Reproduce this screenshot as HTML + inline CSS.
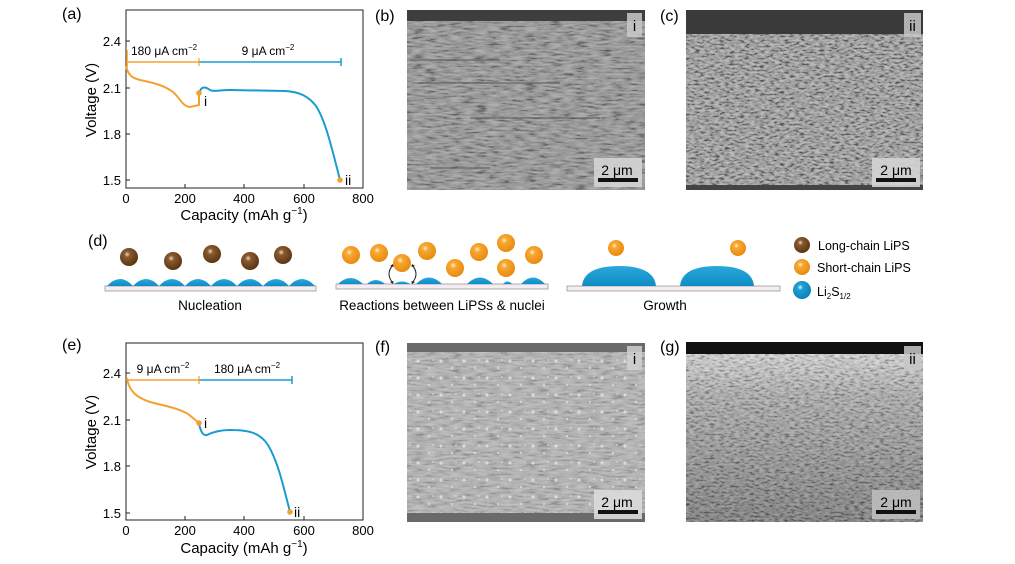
<!DOCTYPE html>
<html><head><meta charset="utf-8"><style>
html,body{margin:0;padding:0;background:#fff;}
svg{display:block;font-family:"Liberation Sans",Arial,sans-serif;}
</style></head><body>
<svg width="1015" height="564" viewBox="0 0 1015 564" xmlns="http://www.w3.org/2000/svg">
<defs>
<filter id="n1" x="0" y="0" width="100%" height="100%"><feTurbulence type="fractalNoise" baseFrequency="0.08 0.5" numOctaves="3" seed="3"/><feColorMatrix type="matrix" values="2 0 0 0 -0.5  2 0 0 0 -0.5  2 0 0 0 -0.5  0 0 0 0 1"/></filter>
<filter id="n2" x="0" y="0" width="100%" height="100%"><feTurbulence type="fractalNoise" baseFrequency="0.2 0.5" numOctaves="3" seed="7"/><feColorMatrix type="matrix" values="2.4 0 0 0 -0.7  2.4 0 0 0 -0.7  2.4 0 0 0 -0.7  0 0 0 0 1"/></filter>
<pattern id="dots" width="23" height="17" patternUnits="userSpaceOnUse"><circle cx="4" cy="4" r="1.6" fill="#e4e4e4"/><circle cx="15" cy="11" r="1.2" fill="#dcdcdc"/><circle cx="19" cy="3" r="0.9" fill="#e0e0e0"/></pattern>
<radialGradient id="gb" cx="0.4" cy="0.35" r="0.65"><stop offset="0" stop-color="#e8d8c8"/><stop offset="0.25" stop-color="#8a5a2e"/><stop offset="1" stop-color="#5a3512"/></radialGradient>
<radialGradient id="go" cx="0.4" cy="0.35" r="0.65"><stop offset="0" stop-color="#fff3d8"/><stop offset="0.25" stop-color="#f8a830"/><stop offset="1" stop-color="#e88a10"/></radialGradient>
<radialGradient id="gl" cx="0.4" cy="0.35" r="0.65"><stop offset="0" stop-color="#e0f4fc"/><stop offset="0.25" stop-color="#1ca0d4"/><stop offset="1" stop-color="#0a82b8"/></radialGradient>
<linearGradient id="gdome" x1="0" y1="0" x2="0" y2="1"><stop offset="0" stop-color="#2aa8dc"/><stop offset="1" stop-color="#0e8cc4"/></linearGradient>
<linearGradient id="gg" x1="0" y1="0" x2="0" y2="1"><stop offset="0" stop-color="#dcdcdc"/><stop offset="0.3" stop-color="#a4a4a4"/><stop offset="1" stop-color="#707070"/></linearGradient>
</defs>

<!-- ===== Panel a ===== -->
<text x="62" y="19" font-size="16">(a)</text>
<rect x="126" y="10" width="237" height="178" fill="none" stroke="#222" stroke-width="1"/>
<g stroke="#222" stroke-width="1">
<line x1="185" y1="188" x2="185" y2="184"/><line x1="244" y1="188" x2="244" y2="184"/><line x1="304" y1="188" x2="304" y2="184"/>
<line x1="126" y1="41" x2="130" y2="41"/><line x1="126" y1="88" x2="130" y2="88"/><line x1="126" y1="134" x2="130" y2="134"/><line x1="126" y1="180" x2="130" y2="180"/>
</g>
<g font-size="13" text-anchor="end"><text x="121" y="46">2.4</text><text x="121" y="93">2.1</text><text x="121" y="139">1.8</text><text x="121" y="185">1.5</text></g>
<g font-size="13" text-anchor="middle"><text x="126" y="203">0</text><text x="185" y="203">200</text><text x="244" y="203">400</text><text x="304" y="203">600</text><text x="363" y="203">800</text></g>
<text x="244" y="220" font-size="15" text-anchor="middle">Capacity (mAh g<tspan font-size="10" dy="-6">−1</tspan><tspan dy="6">)</tspan></text>
<text transform="translate(96,100) rotate(-90)" font-size="15" text-anchor="middle">Voltage (V)</text>
<line x1="126" y1="62" x2="199" y2="62" stroke="#f5a030" stroke-width="1.5"/>
<line x1="199" y1="62" x2="341" y2="62" stroke="#1a9bd0" stroke-width="1.5"/>
<line x1="341" y1="58" x2="341" y2="66" stroke="#1a9bd0" stroke-width="1.5"/>
<line x1="199" y1="58" x2="199" y2="66" stroke="#f5a030" stroke-width="1.2"/>
<line x1="127" y1="50" x2="127" y2="70" stroke="#f5a030" stroke-width="1.5"/>
<text x="131" y="55" font-size="12">180 μA cm<tspan font-size="8" dy="-5">−2</tspan></text>
<text x="268" y="55" font-size="12" text-anchor="middle">9 μA cm<tspan font-size="8" dy="-5">−2</tspan></text>
<path d="M126,66 C128,75 132,78 140,80 C155,83 165,86 173,92 C180,98 183,107 190,107 L199,105 L199,93" fill="none" stroke="#f5a030" stroke-width="2"/>
<path d="M200,91 C202,86 206,87 210,90 C214,92 220,90 230,90 L285,91 C300,92 308,96 316,106 C324,118 330,140 340,180" fill="none" stroke="#1a9bd0" stroke-width="2"/>
<circle cx="199" cy="93" r="2.8" fill="#f5a030"/><circle cx="340" cy="180" r="2.8" fill="#f5a030"/>
<text x="204" y="106" font-size="14">i</text><text x="345" y="185" font-size="14">ii</text>

<!-- ===== Panel e ===== -->
<text x="62" y="350" font-size="16">(e)</text>
<rect x="126" y="343" width="237" height="177" fill="none" stroke="#222" stroke-width="1"/>
<g stroke="#222" stroke-width="1">
<line x1="185" y1="520" x2="185" y2="516"/><line x1="244" y1="520" x2="244" y2="516"/><line x1="304" y1="520" x2="304" y2="516"/>
<line x1="126" y1="373" x2="130" y2="373"/><line x1="126" y1="420" x2="130" y2="420"/><line x1="126" y1="466" x2="130" y2="466"/><line x1="126" y1="513" x2="130" y2="513"/>
</g>
<g font-size="13" text-anchor="end"><text x="121" y="378">2.4</text><text x="121" y="425">2.1</text><text x="121" y="471">1.8</text><text x="121" y="518">1.5</text></g>
<g font-size="13" text-anchor="middle"><text x="126" y="535">0</text><text x="185" y="535">200</text><text x="244" y="535">400</text><text x="304" y="535">600</text><text x="363" y="535">800</text></g>
<text x="244" y="553" font-size="15" text-anchor="middle">Capacity (mAh g<tspan font-size="10" dy="-6">−1</tspan><tspan dy="6">)</tspan></text>
<text transform="translate(96,432) rotate(-90)" font-size="15" text-anchor="middle">Voltage (V)</text>
<line x1="126" y1="380" x2="199" y2="380" stroke="#f5a030" stroke-width="1.5"/>
<line x1="199" y1="380" x2="292" y2="380" stroke="#1a9bd0" stroke-width="1.5"/>
<line x1="292" y1="376" x2="292" y2="384" stroke="#1a9bd0" stroke-width="1.5"/>
<line x1="199" y1="376" x2="199" y2="384" stroke="#f5a030" stroke-width="1.2"/>
<text x="163" y="373" font-size="12" text-anchor="middle">9 μA cm<tspan font-size="8" dy="-5">−2</tspan></text>
<text x="247" y="373" font-size="12" text-anchor="middle">180 μA cm<tspan font-size="8" dy="-5">−2</tspan></text>
<path d="M127,378 C129,392 138,398 150,402 C165,406 178,408 188,414 L199,423" fill="none" stroke="#f5a030" stroke-width="2"/>
<path d="M199,424 C201,432 203,436 207,435 C213,432 220,430 230,430 C250,430 260,433 268,445 C277,460 282,480 290,512" fill="none" stroke="#1a9bd0" stroke-width="2"/>
<circle cx="199" cy="423" r="2.8" fill="#f5a030"/><circle cx="290" cy="512" r="2.8" fill="#f5a030"/>
<text x="204" y="428" font-size="14">i</text><text x="294" y="517" font-size="14">ii</text>

<!-- ===== SEM b ===== -->
<text x="375" y="21" font-size="16">(b)</text>
<rect x="407" y="10" width="238" height="180" filter="url(#n1)"/>
<rect x="407" y="10" width="238" height="180" fill="#8c8c8c" opacity="0.7"/>
<rect x="407" y="10" width="238" height="11" fill="#3e3e3e"/>
<g stroke="#505050" stroke-width="1.5" opacity="0.6"><line x1="470" y1="118" x2="600" y2="118"/><line x1="430" y1="168" x2="490" y2="168"/><line x1="410" y1="60" x2="500" y2="60"/><line x1="420" y1="83" x2="560" y2="83"/></g>
<rect x="627" y="13" width="15" height="24" fill="#c8c8c8" opacity="0.85"/><text x="634.5" y="31" font-size="15" text-anchor="middle">i</text>
<rect x="594" y="158" width="48" height="29" fill="#d4d4d4" opacity="0.9"/><text x="617" y="175" font-size="14" text-anchor="middle">2 μm</text>
<rect x="598" y="178" width="40" height="4" fill="#111"/>

<!-- ===== SEM c ===== -->
<text x="660" y="21" font-size="16">(c)</text>
<rect x="686" y="10" width="237" height="180" filter="url(#n2)"/>
<rect x="686" y="10" width="237" height="180" fill="#8e8e8e" opacity="0.6"/>
<rect x="686" y="10" width="237" height="24" fill="#3a3a3a"/>
<rect x="686" y="185" width="237" height="5" fill="#444"/>
<rect x="904" y="13" width="17" height="24" fill="#c8c8c8" opacity="0.85"/><text x="912.5" y="31" font-size="15" text-anchor="middle">ii</text>
<rect x="872" y="158" width="48" height="29" fill="#d4d4d4" opacity="0.9"/><text x="896" y="175" font-size="14" text-anchor="middle">2 μm</text>
<rect x="876" y="178" width="40" height="4" fill="#111"/>

<!-- ===== SEM f ===== -->
<text x="375" y="352" font-size="16">(f)</text>
<rect x="407" y="343" width="238" height="179" filter="url(#n1)"/>
<rect x="407" y="343" width="238" height="179" fill="#b0b0b0" opacity="0.8"/>
<rect x="407" y="352" width="238" height="161" fill="url(#dots)" opacity="0.8"/>
<rect x="407" y="343" width="238" height="9" fill="#6a6a6a"/>
<rect x="407" y="513" width="238" height="9" fill="#6a6a6a"/>
<rect x="627" y="346" width="15" height="24" fill="#d0d0d0" opacity="0.85"/><text x="634.5" y="364" font-size="15" text-anchor="middle">i</text>
<rect x="594" y="490" width="48" height="29" fill="#dadada" opacity="0.9"/><text x="617" y="507" font-size="14" text-anchor="middle">2 μm</text>
<rect x="598" y="510" width="40" height="4" fill="#111"/>

<!-- ===== SEM g ===== -->
<text x="660" y="352" font-size="16">(g)</text>
<rect x="686" y="342" width="237" height="180" filter="url(#n2)"/>
<rect x="686" y="342" width="237" height="180" fill="url(#gg)" opacity="0.72"/>
<rect x="686" y="342" width="237" height="12" fill="#111"/>
<rect x="904" y="346" width="17" height="24" fill="#c8c8c8" opacity="0.85"/><text x="912.5" y="364" font-size="15" text-anchor="middle">ii</text>
<rect x="872" y="490" width="48" height="29" fill="#bdbdbd" opacity="0.9"/><text x="896" y="507" font-size="14" text-anchor="middle">2 μm</text>
<rect x="876" y="510" width="40" height="4" fill="#111"/>

<!-- ===== Panel d ===== -->
<text x="88" y="246" font-size="16">(d)</text>
<rect x="105" y="286" width="211" height="5" fill="#f6ecf4" stroke="#999" stroke-width="0.8"/>
<rect x="336" y="284" width="212" height="5" fill="#f6ecf4" stroke="#999" stroke-width="0.8"/>
<rect x="567" y="286" width="213" height="5" fill="#f6ecf4" stroke="#999" stroke-width="0.8"/>
<g fill="url(#gdome)">
<path d="M107,286 Q120,272 133,286Z"/><path d="M133,286 Q146,272 159,286Z"/><path d="M159,286 Q172,272 185,286Z"/><path d="M185,286 Q198,272 211,286Z"/><path d="M211,286 Q224,272 237,286Z"/><path d="M237,286 Q250,272 263,286Z"/><path d="M263,286 Q276,272 289,286Z"/><path d="M289,286 Q302,272 315,286Z"/>
<path d="M338,284 Q350.5,272 363,284Z"/><path d="M367,284 Q376,276 385,284Z"/><path d="M394,284 Q402,279 410,284Z"/><path d="M416,284 Q429,271 442,284Z"/><path d="M467,284 Q480,271 493,284Z"/><path d="M503,284 Q507.5,279 512,284Z"/><path d="M521,284 Q533,271 545,284Z"/>
<path d="M582,286 Q584,266 619,266 Q654,266 656,286Z"/><path d="M680,286 Q682,266 717,266 Q752,266 754,286Z"/>
</g>
<g fill="url(#gb)"><circle cx="129" cy="257" r="9"/><circle cx="173" cy="261" r="9"/><circle cx="212" cy="254" r="9"/><circle cx="250" cy="261" r="9"/><circle cx="283" cy="255" r="9"/></g>
<g fill="url(#go)"><circle cx="351" cy="255" r="9"/><circle cx="379" cy="253" r="9"/><circle cx="402" cy="263" r="9"/><circle cx="427" cy="251" r="9"/><circle cx="455" cy="268" r="9"/><circle cx="479" cy="252" r="9"/><circle cx="506" cy="243" r="9"/><circle cx="506" cy="268" r="9"/><circle cx="534" cy="255" r="9"/>
<circle cx="616" cy="248" r="8"/><circle cx="738" cy="248" r="8"/></g>
<g fill="none" stroke="#222" stroke-width="1">
<path d="M393,265 Q385,274 393,283"/><path d="M412,265 Q420,274 412,283"/>
</g>
<g fill="#222"><path d="M393,264 l-3,2 l3.5,1z"/><path d="M393,284 l-3,-2 l3.5,-1z"/><path d="M412,264 l3,2 l-3.5,1z"/><path d="M412,284 l3,-2 l-3.5,-1z"/></g>
<g font-size="13.5" text-anchor="middle"><text x="210" y="310">Nucleation</text><text x="442" y="310">Reactions between LiPSs &amp; nuclei</text><text x="665" y="310">Growth</text></g>
<circle cx="802" cy="245" r="8" fill="url(#gb)"/><circle cx="802" cy="267" r="8" fill="url(#go)"/><circle cx="802" cy="290" r="9" fill="url(#gl)"/>
<g font-size="12.5"><text x="818" y="250">Long-chain LiPS</text><text x="817" y="272">Short-chain LiPS</text><text x="817" y="296">Li<tspan font-size="8" dy="3">2</tspan><tspan dy="-3">S</tspan><tspan font-size="8" dy="3">1/2</tspan></text></g>
</svg>
</body></html>
